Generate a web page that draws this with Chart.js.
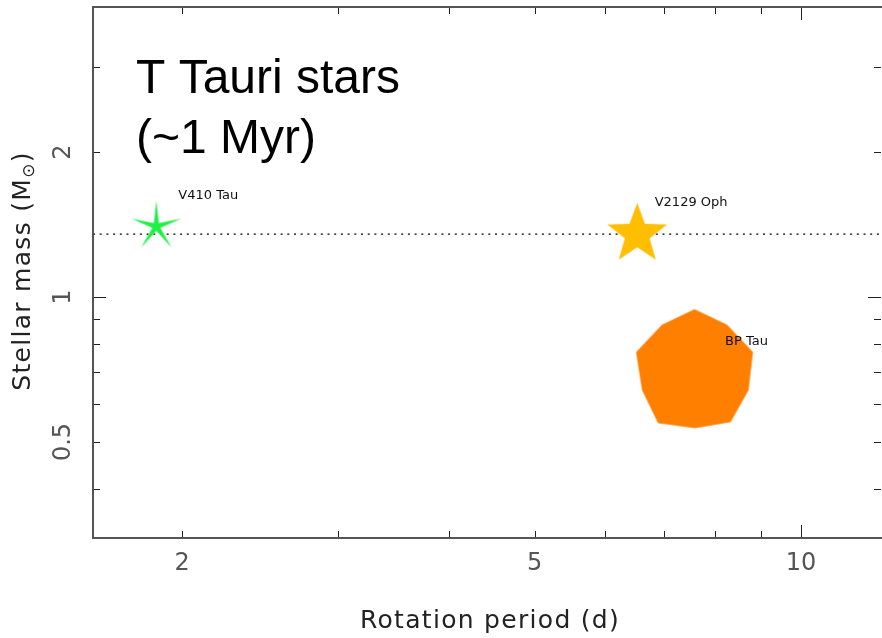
<!DOCTYPE html>
<html>
<head>
<meta charset="utf-8">
<script src="https://cdn.jsdelivr.net/npm/chart.js@4.4.0/dist/chart.umd.min.js"></script>
<style>
  html, body { margin: 0; padding: 0; background: #ffffff; }
  #wrap { width: 882px; height: 638px; }
</style>
</head>
<body>
<div id="wrap"><canvas id="c" width="882" height="638"></canvas></div>
<script>
// Stars shown on the diagram
const starNames = ['V410 Tau', 'V2129 Oph', 'BP Tau'];
const periods   = [1.87, 6.53, 7.58];   // rotation period (d)
const masses    = [1.40, 1.35, 0.71];   // stellar mass (M_sun)
const refMass   = 1.35;                 // dotted reference level

// Axis ranges and labelled ticks
const xRange = [1.586, 12.31];
const yRange = [0.316, 4.0];
const xTickLabels = [2, 5, 10];
const yTickLabels = [0.5, 1, 2];

const LABEL_FONT = '"DejaVu Sans", sans-serif';

// ---- marker images -------------------------------------------------
function starCanvas(R, r, fill) {
  const pad = 3, size = Math.ceil(2 * (R + pad));
  const cv = document.createElement('canvas');
  cv.width = size; cv.height = size;
  const g = cv.getContext('2d');
  g.translate(size / 2, size / 2);
  g.beginPath();
  for (let k = 0; k < 10; k++) {
    const a = -Math.PI / 2 + k * Math.PI / 5;
    const rr = k % 2 === 0 ? R : r;
    g.lineTo(rr * Math.cos(a), rr * Math.sin(a));
  }
  g.closePath();
  g.fillStyle = fill;
  g.fill();
  return cv;
}

function blobCanvas(fill) {
  // many-sided filled "circle" symbol
  const shape = [[0,-59.5],[32.5,-44],[58.5,-16.5],[54,21.5],[36,53.5],
                 [0.5,59.5],[-36.5,54.5],[-52.5,21.5],[-58.5,-16.5],[-32.5,-44]];
  const size = 130;
  const cv = document.createElement('canvas');
  cv.width = size; cv.height = size;
  const g = cv.getContext('2d');
  g.translate(size / 2, size / 2);
  g.beginPath();
  shape.forEach(([px, py]) => g.lineTo(px, py));
  g.closePath();
  g.fillStyle = fill;
  g.fill();
  return cv;
}

const markers = [
  starCanvas(26, 4.2, '#1ef046'),
  starCanvas(31.5, 13, '#ffbe00'),
  blobCanvas('#ff7f00')
];
const labelOffsets = [[22, -31], [17.5, -31.5], [30.5, -27]];

// ---- tick positions (log axes: 2..9 minor per decade, decades major) --
function logTicks(lo, hi) {
  const out = [];
  for (let e = Math.floor(Math.log10(lo)); e <= Math.ceil(Math.log10(hi)); e++) {
    for (let m = 1; m <= 9; m++) {
      const v = m * Math.pow(10, e);
      if (v >= lo && v <= hi) out.push({ v, major: m === 1 });
    }
  }
  return out;
}

// ---- frame, ticks, labels, titles -----------------------------------
const framePlugin = {
  id: 'frame',
  beforeDatasetsDraw(chart) {
    const { ctx, chartArea: a, scales: { x, y } } = chart;
    ctx.save();
    ctx.strokeStyle = '#222';
    ctx.lineWidth = 1;
    logTicks(xRange[0], xRange[1]).forEach(t => {
      const px = Math.round(x.getPixelForValue(t.v)) + 0.5;
      const L = t.major ? 13 : 7;
      ctx.beginPath();
      ctx.moveTo(px, a.bottom); ctx.lineTo(px, a.bottom - L);
      ctx.moveTo(px, a.top); ctx.lineTo(px, a.top + L);
      ctx.stroke();
    });
    logTicks(yRange[0], yRange[1]).forEach(t => {
      const py = Math.round(y.getPixelForValue(t.v)) + 0.5;
      const L = t.major ? 13 : 7;
      ctx.beginPath();
      ctx.moveTo(a.left, py); ctx.lineTo(a.left + L, py);
      ctx.moveTo(a.right, py); ctx.lineTo(a.right - L, py);
      ctx.stroke();
    });
    ctx.restore();
  },
  afterDraw(chart) {
    const { ctx, chartArea: a, scales: { x, y } } = chart;
    ctx.save();
    // frame
    ctx.strokeStyle = '#555';
    ctx.lineWidth = 2;
    ctx.strokeRect(a.left, a.top, a.right - a.left + 2, a.bottom - a.top);

    // tick labels
    ctx.fillStyle = '#555';
    ctx.font = '24px ' + LABEL_FONT;
    ctx.textAlign = 'center';
    ctx.textBaseline = 'middle';
    xTickLabels.forEach(v => ctx.fillText(String(v), x.getPixelForValue(v), 564));
    yTickLabels.forEach(v => {
      ctx.save();
      ctx.translate(64, y.getPixelForValue(v));
      ctx.rotate(-Math.PI / 2);
      ctx.fillText(String(v), 0, 0);
      ctx.restore();
    });

    // axis titles
    ctx.fillStyle = '#222';
    ctx.font = '25px ' + LABEL_FONT;
    ctx.letterSpacing = '1.3px';
    ctx.fillText('Rotation period (d)', (a.left + a.right) / 2 + 3, 621);

    ctx.save();
    ctx.translate(23, 271);
    ctx.rotate(-Math.PI / 2);
    const main = 'Stellar mass (M', sub = '\u2299', close = ')';
    ctx.font = '25px ' + LABEL_FONT;
    const w1 = ctx.measureText(main).width;
    const w3 = ctx.measureText(close).width;
    ctx.font = '17px ' + LABEL_FONT;
    const w2 = ctx.measureText(sub).width;
    let cx = -(w1 + w2 + w3) / 2;
    ctx.textAlign = 'left';
    ctx.font = '25px ' + LABEL_FONT;
    ctx.fillText(main, cx, 0); cx += w1;
    ctx.font = '17px ' + LABEL_FONT;
    ctx.fillText(sub, cx, 7); cx += w2;
    ctx.font = '25px ' + LABEL_FONT;
    ctx.fillText(close, cx, 0);
    ctx.restore();
    ctx.letterSpacing = '0px';

    // panel heading
    ctx.fillStyle = '#000';
    ctx.font = '48px "Liberation Sans", Arial, sans-serif';
    ctx.textAlign = 'left';
    ctx.textBaseline = 'alphabetic';
    ctx.fillText('T Tauri stars', 136, 93);
    ctx.fillText('(~1 Myr)', 136, 153);
    ctx.restore();
  },
  afterDatasetsDraw(chart) {
    const { ctx } = chart;
    ctx.save();
    ctx.fillStyle = '#111';
    ctx.font = '13px ' + LABEL_FONT;
    ctx.textAlign = 'left';
    ctx.textBaseline = 'middle';
    starNames.forEach((name, i) => {
      const el = chart.getDatasetMeta(i).data[0];
      ctx.fillText(name, el.x + labelOffsets[i][0], el.y + labelOffsets[i][1]);
    });
    ctx.restore();
  }
};

// ---- datasets -------------------------------------------------------
const datasets = starNames.map((name, i) => ({
  type: 'scatter',
  label: name,
  data: [{ x: periods[i], y: masses[i] }],
  pointStyle: markers[i],
  pointRadius: 20,
  order: 1
}));
datasets.push({
  type: 'line',
  label: 'reference',
  data: [{ x: xRange[0], y: refMass }, { x: xRange[1], y: refMass }],
  borderColor: '#000',
  borderWidth: 1.2,
  borderDash: [2, 4.7],
  pointRadius: 0,
  fill: false,
  order: 5
});

new Chart(document.getElementById('c'), {
  type: 'scatter',
  data: { datasets },
  options: {
    responsive: false,
    devicePixelRatio: 1,
    animation: false,
    layout: { autoPadding: false, padding: { left: 93, top: 7, right: 1, bottom: 100 } },
    plugins: { legend: { display: false }, tooltip: { enabled: false } },
    scales: {
      x: { type: 'logarithmic', bounds: 'data', min: xRange[0], max: xRange[1], display: false },
      y: { type: 'logarithmic', bounds: 'data', min: yRange[0], max: yRange[1], display: false }
    }
  },
  plugins: [framePlugin]
});
</script>
</body>
</html>
